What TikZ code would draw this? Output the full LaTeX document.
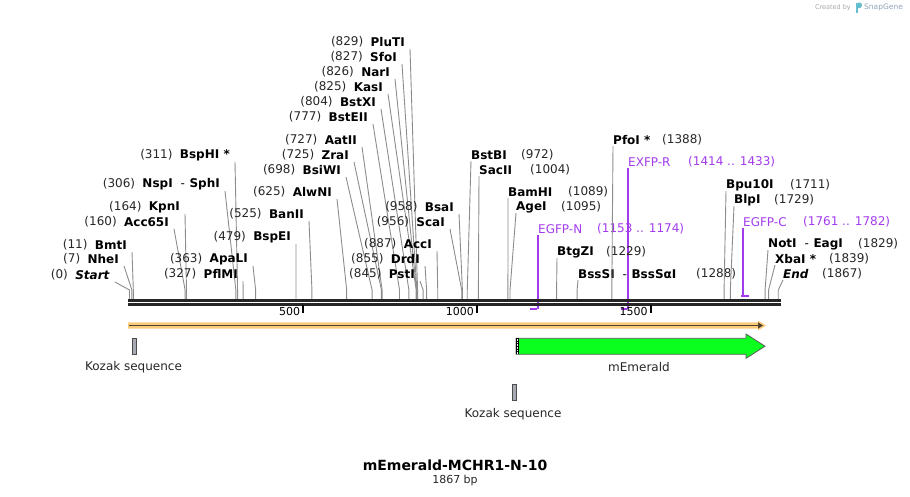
\documentclass[tikz,border=0pt]{standalone}
\usepackage{fontspec}
\setmainfont{DejaVu Sans}
\usetikzlibrary{arrows.meta}
\definecolor{ccut}{HTML}{8C8C8C}
\definecolor{cbone}{HTML}{262626}
\definecolor{cprimer}{HTML}{A23BEC}
\definecolor{corf}{HTML}{FDCB7A}
\definecolor{corfline}{HTML}{4F4232}
\definecolor{cgfp}{HTML}{0AFF1E}
\definecolor{ckozak}{HTML}{A7AAB2}
\definecolor{cbrand}{HTML}{8FA3B8}
\tikzset{
  every picture/.style={x=1pt, y=-1pt, font=\fontsize{12}{14}\selectfont},
  lsite/.style={anchor=east, inner sep=0pt},
  rsite/.style={anchor=west, inner sep=0pt},
  cutpos/.style={inner sep=0pt, text=black!85},
  cutline/.style={draw=ccut, line width=0.9pt},
  primer/.style={draw=cprimer, line width=1.7pt},
  plabel/.style={anchor=west, inner sep=0pt, text=cprimer},
  bone/.style={draw=cbone, line width=2.7pt},
  bptick/.style={draw=black, line width=1.7pt},
  bplabel/.style={anchor=east, inner sep=0pt, font=\fontsize{11}{13}\selectfont},
  feat/.style={inner sep=0pt, text=black!85},
  kozak/.style={draw=black!70, fill=ckozak, line width=0.8pt},
}
\begin{document}
\begin{tikzpicture}
  \useasboundingbox (0,0) rectangle (910,496);
  % primers
  \foreach \a/\b/\wx/\ly/\nx/\by/\nm [count=\i] in {1153/1174/538/229/597/309/EGFP-N,
      1414/1433/628/162/688/309/EXFP-R, 1761/1782/743/222/803/296/EGFP-C} {
    \pgfmathsetmacro\pa{129.5+0.3475*\a}
    \pgfmathsetmacro\pb{129.5+0.3475*\b}
    \node[plabel] (p\i) at (\wx,\ly) {\nm};
    \node[plabel] (pn\i) at (\nx,\ly) {(\a{} .. \b)};
    \coordinate (pa\i) at (\pa,\by);
    \coordinate (pb\i) at (\pb,\by);
    \coordinate (pe\i) at (\wx,\by);
    \draw[primer] ([yshift=-6pt]p\i.west) -- (pe\i);
    \draw[primer] (pa\i) -- (pb\i);
  }
  % backbone
  \draw[bone] (128,300.3) -- (781,300.3);
  \draw[bone] (128,304.3) -- (781,304.3);
  \foreach \t in {500,1000,1500} {
    \pgfmathsetmacro\tx{129.5+0.3475*\t}
    \draw[bptick] (\tx,305) -- (\tx,313);
    \node[bplabel] (t\t) at (\tx-3,311.5) {\t};
  }
  % sites, left side
  \foreach \bp/\ex/\ly/\nm [count=\i] in {0/110/275/\textit{Start}, 7/119/259/NheI,
      11/127/245/BmtI, 160/169/222/Acc65I, 164/180/207/KpnI,
      306/220/184/{NspI\hspace{8pt}\textmd{-}\hspace{4.5pt}SphI}, 311/230/155/{BspHI *},
      327/238/274/PflMI, 363/248/259/ApaLI, 479/291/237/BspEI, 525/304/214/BanII,
      625/332/192/AlwNI, 698/341/170/BsiWI, 725/349/155/ZraI, 727/357/140/AatII,
      777/368/117/BstEII, 804/376/102/BstXI, 825/383/87/KasI, 826/390/72/NarI,
      827/397/57/SfoI, 829/405/42/PluTI, 845/415/274/PstI, 855/420/259/DrdI,
      887/432/244/AccI, 956/445/222/ScaI, 958/454/207/BsaI} {
    \pgfmathsetmacro\sx{129.5+0.3475*\bp}
    \node[lsite] (l\i) at (\ex,\ly) {\textbf{\nm}};
    \node[cutpos, anchor=east] (ln\i) at ([xshift=-7pt]l\i.west) {(\bp)};
    \coordinate (lk\i) at (\sx,290);
    \coordinate (ls\i) at (\sx,298.8);
    \draw[cutline] ([xshift=5pt,yshift=-7pt]l\i.east) -- (lk\i) -- (ls\i);
  }
  % sites, right side
  \foreach \bp/\wx/\ly/\nx/\nm [count=\i] in {972/471/155/521/BstBI,
      1004/479/170/530/SacII, 1089/508/192/568/BamHI, 1095/516/207/561/AgeI,
      1229/557/252/606/BtgZI, 1288/578/274/696/{BssSI\hspace{8pt}\textmd{-}\hspace{4.5pt}BssSαI},
      1388/613/140/662/{PfoI *}, 1711/726/185/790/Bpu10I, 1729/734/200/774/BlpI,
      1829/768/244/858/{NotI\hspace{8pt}\textmd{-}\hspace{4.5pt}EagI},
      1839/775/259/829/{XbaI *}, 1867/783/274/822/\textit{End}} {
    \pgfmathsetmacro\sx{129.5+0.3475*\bp}
    \node[rsite] (r\i) at (\wx,\ly) {\textbf{\nm}};
    \node[cutpos, anchor=west] (rn\i) at (\nx,\ly) {(\bp)};
    \coordinate (rk\i) at (\sx,290);
    \coordinate (rs\i) at (\sx,298.8);
    \draw[cutline] ([yshift=-6pt]r\i.west) -- (rk\i) -- (rs\i);
  }
  % orf arrow
  \fill[corf] (128,322.3) -- (758,322.3) -- (758,320.5) -- (766,325.5) -- (758,330.5)
    -- (758,328.7) -- (128,328.7) -- cycle;
  \draw[corfline, line width=1.8pt, -{Triangle[length=5pt,width=6pt]}] (129,325.5) -- (763,325.5);
  % features
  \draw[kozak] (132.3,338.3) rectangle (136.5,354.3);
  \draw[kozak] (512.3,384.3) rectangle (516.5,400.3);
  \draw[fill=cgfp, draw=black!65, line width=0.8pt] (516,338.3) -- (746,338.3) -- (746,334)
    -- (765,346.2) -- (746,358.3) -- (746,354.3) -- (516,354.3) -- cycle;
  \fill[black] (516,338.3) rectangle (518.6,354.3);
  \draw[white, line width=0.8pt, dash pattern=on 0.8pt off 0.8pt] (517.3,338.8) -- (517.3,354);
  \node[feat] (kz1) at (133.5,367) {Kozak sequence};
  \node[feat] (mem) at (639,367) {mEmerald};
  \node[feat] (kz2) at (513,414) {Kozak sequence};
  % title
  \node[font=\bfseries\fontsize{14}{16}\selectfont] (title) at (455,465) {mEmerald-MCHR1-N-10};
  \node[font=\fontsize{11}{13}\selectfont, text=black!85] (len) at (455,480.5) {1867 bp};
  % credit
  \node[inner sep=0pt, anchor=east, text=black!35, font=\fontsize{6.5}{8}\selectfont] (cby) at (851,7.5) {Created by};
  \fill[cbrand!70!cyan] (855.5,2.5) rectangle (858,13);
  \fill[cbrand!70!cyan] (858,2.5) -- (860,2.5) .. controls (862.5,2.5) and (862.5,8) .. (860,8) -- (858,8) -- cycle;
  \node[inner sep=0pt, anchor=west, text=cbrand, font=\fontsize{7.5}{9}\selectfont] (sg) at (864,7.5) {SnapGene};
\end{tikzpicture}
\end{document}
